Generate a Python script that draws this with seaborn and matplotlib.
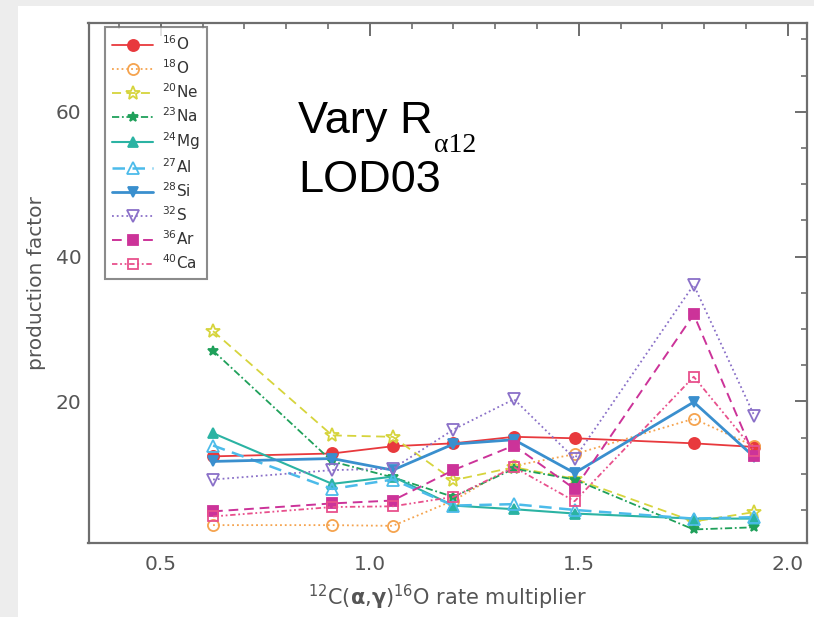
import numpy as np
import pandas as pd
import matplotlib
matplotlib.use("Agg")
import matplotlib.pyplot as plt
import seaborn as sns
from matplotlib.ticker import MultipleLocator
from matplotlib.patches import Rectangle

# ---- data ----
multiplier = [0.625, 0.91, 1.055, 1.2, 1.345, 1.49, 1.775, 1.92]
isotopes = ["16O", "18O", "20Ne", "23Na", "24Mg", "27Al", "28Si", "32S", "36Ar", "40Ca"]
labels = [r"$^{16}$O", r"$^{18}$O", r"$^{20}$Ne", r"$^{23}$Na", r"$^{24}$Mg",
          r"$^{27}$Al", r"$^{28}$Si", r"$^{32}$S", r"$^{36}$Ar", r"$^{40}$Ca"]
pf_16O = [12.4, 12.8, 13.8, 14.2, 15.1, 14.9, 14.2, 13.7]
pf_18O = [2.9, 2.9, 2.8, 6.3, 11.1, 12.7, 17.6, 13.8]
pf_20Ne = [29.7, 15.3, 15.1, 9.1, 10.9, 9.3, 3.4, 4.7]
pf_23Na = [27.0, 11.7, 9.5, 6.8, 10.7, 9.2, 2.3, 2.6]
pf_24Mg = [15.6, 8.6, 9.6, 5.6, 5.1, 4.5, 3.8, 3.8]
pf_27Al = [13.9, 7.9, 9.2, 5.6, 5.8, 5.0, 3.8, 4.0]
pf_28Si = [11.7, 12.1, 10.5, 14.1, 14.7, 10.1, 19.9, 12.3]
pf_32S = [9.2, 10.5, 10.7, 16.1, 20.3, 12.1, 36.1, 18.0]
pf_36Ar = [4.8, 5.9, 6.3, 10.5, 13.9, 7.9, 32.0, 12.4]
pf_40Ca = [4.1, 5.4, 5.5, 6.8, 10.9, 6.2, 23.4, 13.2]
values = [pf_16O, pf_18O, pf_20Ne, pf_23Na, pf_24Mg, pf_27Al, pf_28Si, pf_32S, pf_36Ar, pf_40Ca]

df = pd.DataFrame({
    "multiplier": np.tile(multiplier, len(isotopes)),
    "pf": np.concatenate(values),
    "iso": np.repeat(isotopes, len(multiplier)),
})

styles = {
    "16O":  dict(color="#e8393d", marker="o", mfc="#e8393d", ls="-", lw=1.3, ms=8),
    "18O":  dict(color="#f5a34e", marker="o", mfc="none", ls=":", lw=1.3, ms=8),
    "20Ne": dict(color="#d6d43c", marker="*", mfc="none", ls=(0, (5, 3)), lw=1.3, ms=10),
    "23Na": dict(color="#1fa05a", marker="*", mfc="#1fa05a", ls=(0, (4, 1.5, 1, 1.5)), lw=1.3, ms=7),
    "24Mg": dict(color="#2bb3a3", marker="^", mfc="#2bb3a3", ls="-", lw=1.5, ms=7),
    "27Al": dict(color="#4cbbea", marker="^", mfc="none", ls=(0, (5, 3)), lw=1.8, ms=8),
    "28Si": dict(color="#3a8fce", marker="v", mfc="#3a8fce", ls="-", lw=2.0, ms=7),
    "32S":  dict(color="#8a70c8", marker="v", mfc="none", ls=":", lw=1.3, ms=8),
    "36Ar": dict(color="#cc3399", marker="s", mfc="#cc3399", ls=(0, (5, 3)), lw=1.4, ms=7),
    "40Ca": dict(color="#e8508c", marker="s", mfc="none", ls=(0, (3, 1.5, 1, 1.5, 1, 1.5)), lw=1.3, ms=7),
}

sns.set_theme(style="white")
plt.rcParams["font.family"] = ["DejaVu Sans"]

fig = plt.figure(figsize=(8.14, 6.17), dpi=100)
fig.patch.set_facecolor("white")
# light grey slide margin
fig.patches.append(Rectangle((0, 0), 18 / 814, 1, transform=fig.transFigure,
                             facecolor="#ededed", edgecolor="none", zorder=-10))
fig.patches.append(Rectangle((0, 1 - 6 / 617), 1, 6 / 617, transform=fig.transFigure,
                             facecolor="#ededed", edgecolor="none", zorder=-10))

ax = fig.add_axes([88.5 / 814, 1 - 542.5 / 617, (807 - 88.5) / 814, (542.5 - 22.8) / 617])

for iso, lab in zip(isotopes, labels):
    st = styles[iso]
    sub = df[df["iso"] == iso]
    sns.lineplot(data=sub, x="multiplier", y="pf", ax=ax, color=st["color"],
                 marker=st["marker"], markerfacecolor=st["mfc"],
                 markeredgecolor=st["color"], markeredgewidth=1.3,
                 markersize=st["ms"], linestyle=st["ls"], linewidth=st["lw"],
                 label=lab, legend=False)

ax.set_xlim(0.327, 2.046)
ax.set_ylim(0.5, 72.3)
ax.xaxis.set_major_locator(MultipleLocator(0.5))
ax.xaxis.set_minor_locator(MultipleLocator(0.1))
ax.yaxis.set_major_locator(MultipleLocator(20))
ax.yaxis.set_minor_locator(MultipleLocator(5))
ax.xaxis.set_major_formatter(matplotlib.ticker.FormatStrFormatter("%.1f"))
ax.yaxis.set_major_formatter(matplotlib.ticker.FormatStrFormatter("%d"))

grey = "#6e6e6e"
for sp in ax.spines.values():
    sp.set_visible(True)
    sp.set_color(grey)
    sp.set_linewidth(1.6)
ax.tick_params(which="both", direction="in", top=True, right=True, colors=grey,
               labelcolor="#555555", labelsize=14.5)
ax.tick_params(which="major", length=9, width=1.4)
ax.tick_params(axis="x", which="major", pad=9)
ax.tick_params(axis="y", which="major", pad=5)
ax.tick_params(which="minor", length=4.5, width=1.2)

ax.set_xlabel(r"$^{12}$C($\mathbf{\alpha}$,$\mathbf{\gamma}$)$^{16}$O rate multiplier",
              fontsize=15, color="#555555", labelpad=6)
ax.set_ylabel("production factor", fontsize=14.5, color="#555555", labelpad=7)

leg = ax.legend(loc="upper left", bbox_to_anchor=(0.023, 0.991), borderaxespad=0,
                frameon=True, fancybox=False, edgecolor=grey, fontsize=11,
                handlelength=2.7, labelspacing=0.35, borderpad=0.45,
                handletextpad=0.6, labelcolor="#333333")
leg.get_frame().set_linewidth(1.5)

t1 = fig.text(298 / 814, 1 - 133 / 617, "Vary R", fontsize=32.5, color="black",
              family=["Liberation Sans"], va="baseline", ha="left")
fig.canvas.draw()
bb = t1.get_window_extent(renderer=fig.canvas.get_renderer())
fig.text(bb.x1 / 814 + 1 / 814, 1 - 152 / 617, "\u03b112", fontsize=20, color="black",
         family=["Liberation Serif"], va="baseline", ha="left")
fig.text(298 / 814, 1 - 192 / 617, "LOD03", fontsize=32.5, color="black",
         family=["Liberation Sans"], va="baseline", ha="left")

fig.savefig("out.png", dpi=100)
